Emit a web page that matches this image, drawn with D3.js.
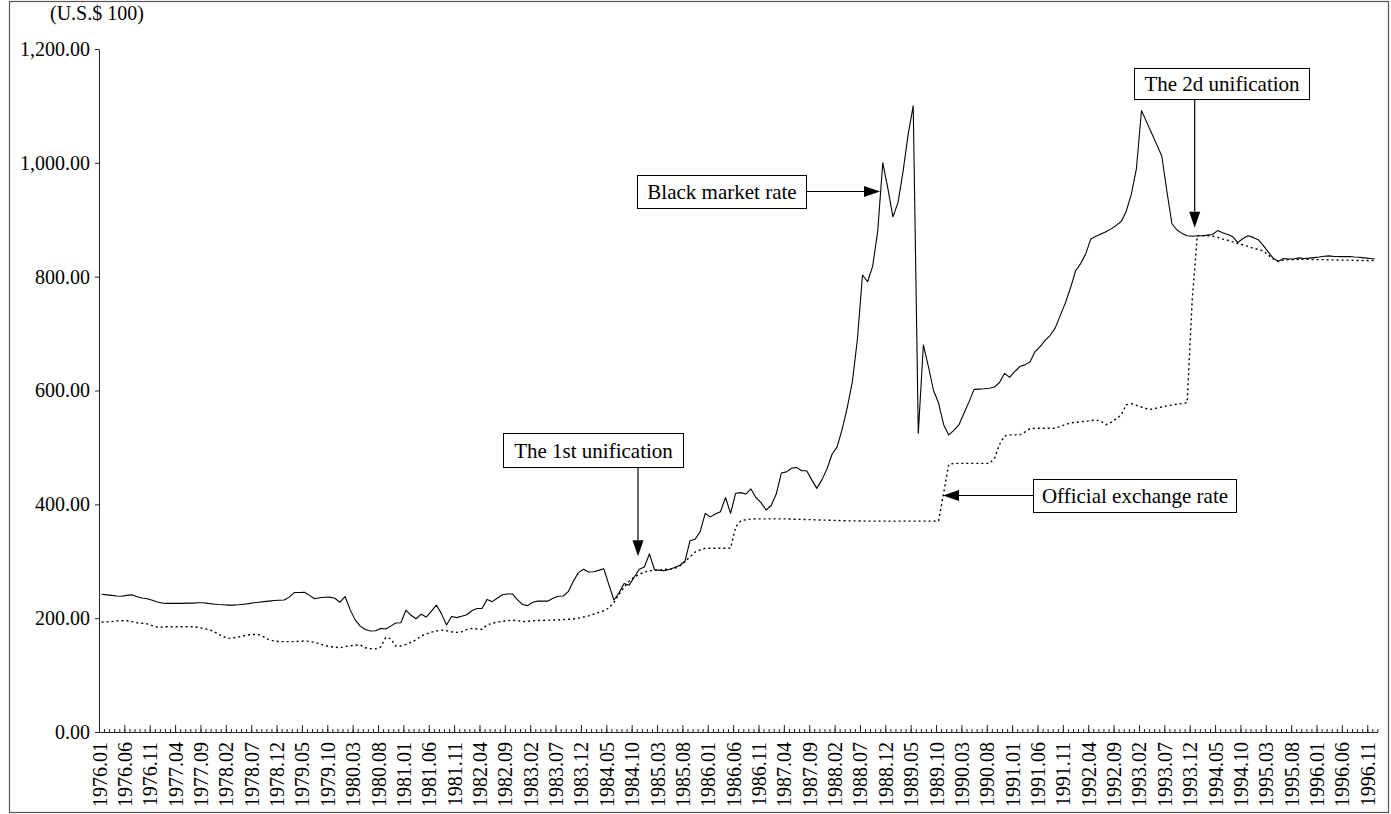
<!DOCTYPE html>
<html>
<head>
<meta charset="utf-8">
<script src="https://cdn.jsdelivr.net/npm/d3@7"></script>
<style>
  html, body { margin: 0; padding: 0; background: #fff; }
  svg { display: block; }
  svg text { font-family: "Liberation Serif", "DejaVu Serif", serif; }
</style>
</head>
<body>
<svg id="chart" width="1391" height="814"></svg>
<script>
// Monthly exchange rates, 1976.01 – 1996.12 (unit: U.S.$ 100)
const tickLabels = [
  "1976.01","1976.06","1976.11","1977.04","1977.09","1978.02","1978.07","1978.12",
  "1979.05","1979.10","1980.03","1980.08","1981.01","1981.06","1981.11","1982.04",
  "1982.09","1983.02","1983.07","1983.12","1984.05","1984.10","1985.03","1985.08",
  "1986.01","1986.06","1986.11","1987.04","1987.09","1988.02","1988.07","1988.12",
  "1989.05","1989.10","1990.03","1990.08","1991.01","1991.06","1991.11","1992.04",
  "1992.09","1993.02","1993.07","1993.12","1994.05","1994.10","1995.03","1995.08",
  "1996.01","1996.06","1996.11"
];

const blackMarketRate = [
  242,241,240,239,238.5,240,241,237.5,235.5,234,231.5,228.5,
  226.5,226,226,226,226,226.5,226.5,227,227,226,225,224,
  223.5,223,223,223.5,224.5,225.5,227,228,229,230,231,231.5,
  232,237,245,245,245.5,240,234,236,236.7,237,235,228,
  238,215,197,186,180,177.5,178,182,181,186,191.5,192,
  214,205,199,207,202,212,223,208,188,203,201,203.5,
  206,213,217,217,233,229,235,241,242.5,242.5,232,224,
  222,228,230,230,230,235,238.5,239,246.6,265,280,286,
  281,281.5,284,287,259,232,244,261,258,272,286,290,
  313,285,284,283.5,286,289,293,300,336,338.6,352,384,
  378,383,387,412,384,419.5,420.6,418,427,412,403,390,
  398,418,455,457,463.5,465,459,459,443,428,443,462,
  488,501,532,570,615,690,803,791,818,880,1000,955,
  905,930,985,1050,1100,525,680,642,600,578,540,522,
  530,539.5,560,580,602,602.5,603,604,606,614,630,623,
  633,642,645,650,668,677,688,697,710,732,754,780,
  810,823,840,866,871,875,879,884,890,897,915,945,
  990,1092,1072,1052,1032,1012,950,893,882,876,872,871,
  872,872,873,874,881,877,874,870,860,867,872,869,
  865,855,843,832,827,832,831,831,833,832,832.5,833.5,
  834.5,836,836.5,835.5,835.3,835.3,835.3,834.5,834,833,832,831
];

const officialRate = [
  193,193.5,194,195,195.5,195.5,194,192,191,190,187,184,
  184.5,185,185,185,185,185,185,184,182,180,177.5,172,
  167.5,164.5,165.5,167,169,170.5,171.5,171,167,162,160,159,
  158.7,158.7,158.7,159.5,160,159,157.5,155,152,150,149,148,
  150,151.5,152.5,153,148,146.5,146,149,166,164,151,151,
  154,157.5,162,168.5,172,175.5,177.5,179,178,176,175,176,
  180,182,181,180.5,188,191,193,194.5,195.5,196.5,195.5,194,
  194.5,195.5,196,196,196.5,196.8,197,197.5,198,198.5,200,202,
  204,207,210,213,218,228,242,254,265,272,277,281,
  283,284,284.7,285.5,286.5,287.5,292,299,308,316,320,322.8,
  322.8,322.8,322.8,322.8,323,360,371,373,374,374.4,374.4,374.4,
  374.4,374.4,374.4,374.4,374,373.8,373.5,373.2,373,372.6,372.4,372.2,
  372,371.6,371.3,371,371,370.8,370.6,370.5,370.5,370.5,370.5,370.5,
  370.5,370.5,370.5,370.5,370.5,370.5,370.5,370.5,370.5,371,420,470,
  472,472,472,472,472,472,472,472,480,505,520,522,
  522,522,527,533,533.7,533.7,533.7,533.7,533.7,537,540,543,
  544,545,546,547,548.4,546,540,544,550,557,575,577,
  574,571,568,567,569,571,573,574.7,576,577,578.7,760,
  872,872,872,871,869,866,864,861,858,856,853,850,
  848,845,838,831,826.6,829,830,830,830,831,830.5,830,
  830,830,829.5,829.5,829,829,829,828.5,828.5,828.5,828.5,828
];

const yTickValues = [0, 200, 400, 600, 800, 1000, 1200];
const unitLabel = "(U.S.$ 100)";

// Callouts: tip is given in (month index, rate) units
const callouts = [
  { text: "The 1st unification",    box: [503, 433, 180, 34], dir: "down",  tip: [106.25, 309] },
  { text: "Black market rate",      box: [637, 175, 169, 33], dir: "right", tip: [153.95, 949] },
  { text: "The 2d unification",     box: [1134, 68, 175, 31], dir: "down",  tip: [215.98, 886] },
  { text: "Official exchange rate", box: [1033, 479, 203, 33], dir: "left", tip: [166.37, 417] }
];

const FONT = "'Liberation Serif', 'DejaVu Serif', serif";
const margin = { left: 99, right: 1377.4, top: 49, bottom: 732 };
const nMonths = blackMarketRate.length;

const svg = d3.select("#chart").attr("font-family", FONT);

// outer frame
svg.append("rect")
  .attr("x", 9.5).attr("y", 1.5)
  .attr("width", 1379).attr("height", 811)
  .attr("fill", "none").attr("stroke", "#555").attr("stroke-width", 1.2);

const x = d3.scaleLinear().domain([0, nMonths]).range([margin.left, margin.right]);
const y = d3.scaleLinear().domain([0, 1200]).range([margin.bottom, margin.top]);

const fontSize = 20;

// y axis
const yAxis = svg.append("g")
  .attr("transform", `translate(${margin.left},0)`)
  .call(d3.axisLeft(y).tickValues(yTickValues).tickSize(4).tickSizeOuter(0)
        .tickPadding(5).tickFormat(d3.format(",.2f")));
yAxis.attr("font-family", FONT).attr("font-size", fontSize);
yAxis.selectAll("text").attr("font-family", FONT).attr("font-size", fontSize).attr("fill", "#000");
yAxis.selectAll("line, path").attr("stroke", "#222");

svg.append("text")
  .attr("x", 50).attr("y", 20)
  .attr("font-family", FONT)
  .attr("font-size", fontSize)
  .attr("fill", "#000")
  .text(unitLabel);

// x axis: minor tick every month, major tick + label every 5 months
const xMinor = svg.append("g")
  .attr("transform", `translate(0,${margin.bottom})`)
  .call(d3.axisBottom(x).tickValues(d3.range(0, nMonths + 1)).tickSize(-3)
        .tickSizeOuter(0).tickFormat(""));
xMinor.selectAll("line, path").attr("stroke", "#222");

const majorIdx = d3.range(0, nMonths, 5);
const xMajor = svg.append("g")
  .attr("transform", `translate(0,${margin.bottom})`)
  .call(d3.axisBottom(x).tickValues(majorIdx).tickSize(-7).tickSizeOuter(0)
        .tickFormat((d, i) => tickLabels[i]));
xMajor.attr("font-family", FONT).attr("font-size", fontSize);
xMajor.select(".domain").remove();
xMajor.selectAll("line").attr("stroke", "#222");
xMajor.selectAll("text")
  .attr("font-family", FONT)
  .attr("font-size", fontSize)
  .attr("fill", "#000")
  .attr("transform", "rotate(-90)")
  .attr("text-anchor", "end")
  .attr("x", -10)
  .attr("y", 0)
  .attr("dy", "0.35em");

// series lines (points at month centres)
const line = d3.line()
  .x((d, i) => x(i + 0.5))
  .y(d => y(d));

svg.append("path")
  .datum(officialRate)
  .attr("fill", "none")
  .attr("stroke", "#000")
  .attr("stroke-width", 1.4)
  .attr("stroke-dasharray", "2,3")
  .attr("d", line);

svg.append("path")
  .datum(blackMarketRate)
  .attr("fill", "none")
  .attr("stroke", "#000")
  .attr("stroke-width", 1.1)
  .attr("stroke-linejoin", "round")
  .attr("d", line);

// callouts with arrows
const headLen = 16, headHalf = 5.5;
callouts.forEach(c => {
  const [bx, by, bw, bh] = c.box;
  const tx = x(c.tip[0]), ty = y(c.tip[1]);
  let sx, sy, ex, ey;
  if (c.dir === "down") { sx = tx; sy = by + bh; ex = tx; ey = ty; }
  else if (c.dir === "right") { sx = bx + bw; sy = by + bh / 2; ex = tx; ey = sy; }
  else { sx = bx; sy = by + bh / 2; ex = tx; ey = sy; }

  const ang = Math.atan2(ey - sy, ex - sx);
  const cos = Math.cos(ang), sin = Math.sin(ang);
  const baseX = ex - headLen * cos, baseY = ey - headLen * sin;

  svg.append("line")
    .attr("x1", sx).attr("y1", sy)
    .attr("x2", baseX).attr("y2", baseY)
    .attr("stroke", "#000").attr("stroke-width", 1.2);

  svg.append("path")
    .attr("d", d3.line()([
      [ex, ey],
      [baseX - headHalf * sin, baseY + headHalf * cos],
      [baseX + headHalf * sin, baseY - headHalf * cos]
    ]) + "Z")
    .attr("fill", "#000");

  svg.append("rect")
    .attr("x", bx + 0.5).attr("y", by + 0.5)
    .attr("width", bw).attr("height", bh)
    .attr("fill", "#fff").attr("stroke", "#000").attr("stroke-width", 1);

  svg.append("text")
    .attr("x", bx + bw / 2 + 0.5)
    .attr("y", by + bh / 2 + 0.5)
    .attr("dy", "0.35em")
    .attr("text-anchor", "middle")
    .attr("font-family", FONT)
    .attr("font-size", 21)
    .attr("fill", "#000")
    .text(c.text);
});
</script>
</body>
</html>
